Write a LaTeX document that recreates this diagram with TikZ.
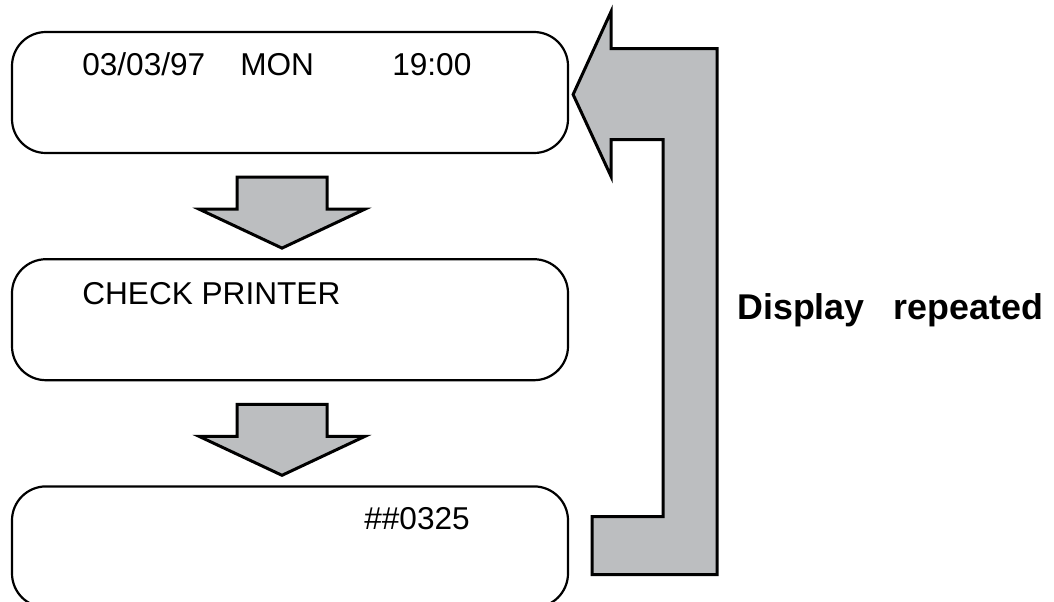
\documentclass[tikz,border=0pt]{standalone}
\usepackage{fontspec}
\setmainfont{Liberation Sans}
\usetikzlibrary{positioning, calc}
\definecolor{arrowgray}{RGB}{188,190,192}

\begin{document}
\begin{tikzpicture}[
  x=0.5pt, y=-0.5pt,
  node distance=52pt,
  screen/.style={draw, line width=1.1pt, rounded corners=17pt, minimum width=278pt, minimum height=60.5pt, inner sep=0pt},
  lcd/.style={inner sep=0pt, anchor=base west, font=\fontsize{15.8}{18}\selectfont},
  blockarrow/.style={draw, line width=1.5pt, fill=arrowgray, line join=miter}
]
\useasboundingbox (0,0) rectangle (1054,601);

% Screens
\node[screen] (scr1) at (290,92.5) {};
\node[screen, below=of scr1] (scr2) {};
\node[screen, below=of scr2] (scr3) {};

% Screen texts
\node[lcd] (date)  at ($(scr1.north west)+(71,45)$)  {03/03/97};
\node[lcd] (day)   at ($(scr1.north west)+(229,45)$) {MON};
\node[lcd] (clock) at ($(scr1.north west)+(381,45)$) {19:00};
\node[lcd] (msg)   at ($(scr2.north west)+(71,46)$)  {CHECK PRINTER};
\node[lcd] (code)  at ($(scr3.north west)+(353,44)$) {\#\#0325};

% Arrows between screens
\draw[blockarrow] ($(scr1.south)+(-53,23)$) -- ++(90,0) -- ++(0,32) -- ++(38,0)
  -- ($(scr2.north)+(-8,-10)$) -- ++(-83,-39) -- ++(38,0) -- cycle;
\draw[blockarrow] ($(scr2.south)+(-53,23)$) -- ++(90,0) -- ++(0,32) -- ++(38,0)
  -- ($(scr3.north)+(-8,-10)$) -- ++(-83,-39) -- ++(38,0) -- cycle;

% Return arrow
\draw[blockarrow] ($(scr1.east)+(4,2)$) -- ++(38,-83) -- ++(0,37) -- ++(106,0)
  -- ++(0,526) -- ++(-125,0) -- ++(0,-58) -- ++(71,0) -- ++(0,-377)
  -- ++(-52,0) -- ++(0,37) -- cycle;

\node[inner sep=0pt, anchor=base west, font=\fontsize{17.9}{21}\selectfont\bfseries] (repeat) at (737,319) {Display\hspace{14.5pt}repeated};

\end{tikzpicture}
\end{document}
